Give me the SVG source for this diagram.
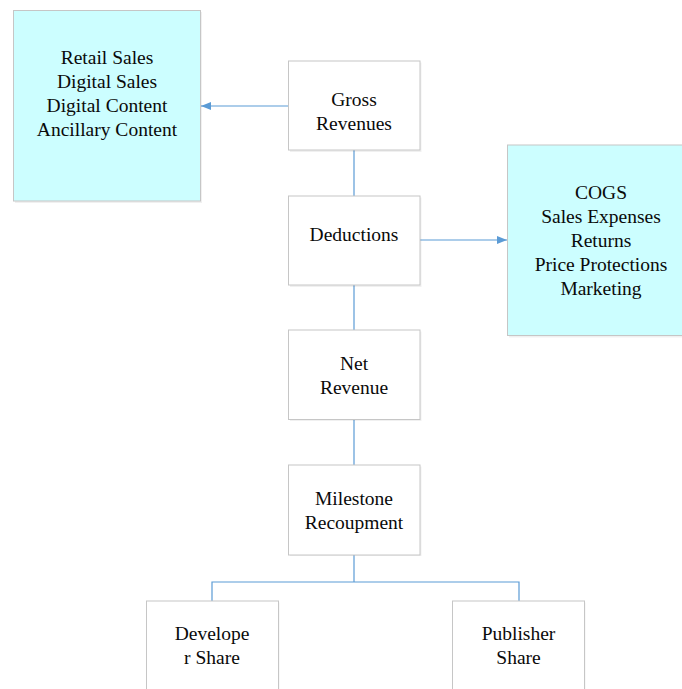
<svg xmlns="http://www.w3.org/2000/svg" width="682" height="689" viewBox="0 0 682 689">
<style>
.box{fill:#ffffff;stroke:#c6c6c6;stroke-width:1}
.cyan{fill:#ccfeff;stroke:#c6c6c6;stroke-width:1}
.sh{fill:#000;opacity:0.06}
.t{font-family:"Liberation Serif","Times New Roman",serif;font-size:19.5px;fill:#0a0a0a;text-anchor:middle}
.c{fill:none;stroke:#5b9bd5;stroke-width:1.2}
</style>
<defs>
<marker id="ah" viewBox="0 0 10 8" refX="10" refY="4" markerWidth="10" markerHeight="8" markerUnits="userSpaceOnUse" orient="auto">
<path d="M0,0 L10,4 L0,8 z" fill="#5b9bd5"/>
</marker>
</defs>
<rect width="682" height="689" fill="#ffffff"/>
<g id="connectors">
<line class="c" x1="288.5" y1="106" x2="201" y2="106" marker-end="url(#ah)"/>
<line class="c" x1="420" y1="240" x2="507" y2="240" marker-end="url(#ah)"/>
<line class="c" x1="354" y1="150" x2="354" y2="196"/>
<line class="c" x1="354" y1="285" x2="354" y2="330"/>
<line class="c" x1="354" y1="420" x2="354" y2="465"/>
<polyline class="c" points="354,555 354,582"/>
<polyline class="c" points="212,601 212,582 519,582 519,601"/>
</g>
<g id="retail">
<rect class="sh" x="15" y="12" width="187" height="191"/>
<rect class="cyan" x="13.5" y="10.5" width="187" height="190.5"/>
<text class="t" x="107" y="64">Retail Sales</text>
<text class="t" x="107" y="88">Digital Sales</text>
<text class="t" x="107" y="112">Digital Content</text>
<text class="t" x="107" y="136">Ancillary Content</text>
</g>
<g id="gross">
<rect class="sh" x="290" y="62.5" width="131.5" height="89.5"/>
<rect class="box" x="288.5" y="61" width="131.5" height="89"/>
<text class="t" x="354" y="106">Gross</text>
<text class="t" x="354" y="130">Revenues</text>
</g>
<g id="deductions">
<rect class="sh" x="290" y="197.5" width="131.5" height="89.5"/>
<rect class="box" x="288.5" y="196" width="131.5" height="89"/>
<text class="t" x="354" y="241">Deductions</text>
</g>
<g id="cogs">
<rect class="sh" x="509" y="146.5" width="187" height="191"/>
<rect class="cyan" x="507.5" y="145" width="187" height="190.5"/>
<text class="t" x="601" y="199">COGS</text>
<text class="t" x="601" y="223">Sales Expenses</text>
<text class="t" x="601" y="247">Returns</text>
<text class="t" x="601" y="271">Price Protections</text>
<text class="t" x="601" y="295">Marketing</text>
</g>
<g id="net">
<rect class="sh" x="290" y="331.5" width="131.5" height="89.5"/>
<rect class="box" x="288.5" y="330" width="131.5" height="89.5"/>
<text class="t" x="354" y="370">Net</text>
<text class="t" x="354" y="394">Revenue</text>
</g>
<g id="milestone">
<rect class="sh" x="290" y="466.5" width="131.5" height="89.5"/>
<rect class="box" x="288.5" y="465" width="131.5" height="90"/>
<text class="t" x="354" y="505">Milestone</text>
<text class="t" x="354" y="529">Recoupment</text>
</g>
<g id="developer">
<rect class="sh" x="148" y="602.5" width="131.5" height="100"/>
<rect class="box" x="146.5" y="601" width="132" height="100"/>
<text class="t" x="212" y="640">Develope</text>
<text class="t" x="212" y="664">r Share</text>
</g>
<g id="publisher">
<rect class="sh" x="454" y="602.5" width="131.5" height="100"/>
<rect class="box" x="452.5" y="601" width="132" height="100"/>
<text class="t" x="518.5" y="640">Publisher</text>
<text class="t" x="518.5" y="664">Share</text>
</g>
</svg>
